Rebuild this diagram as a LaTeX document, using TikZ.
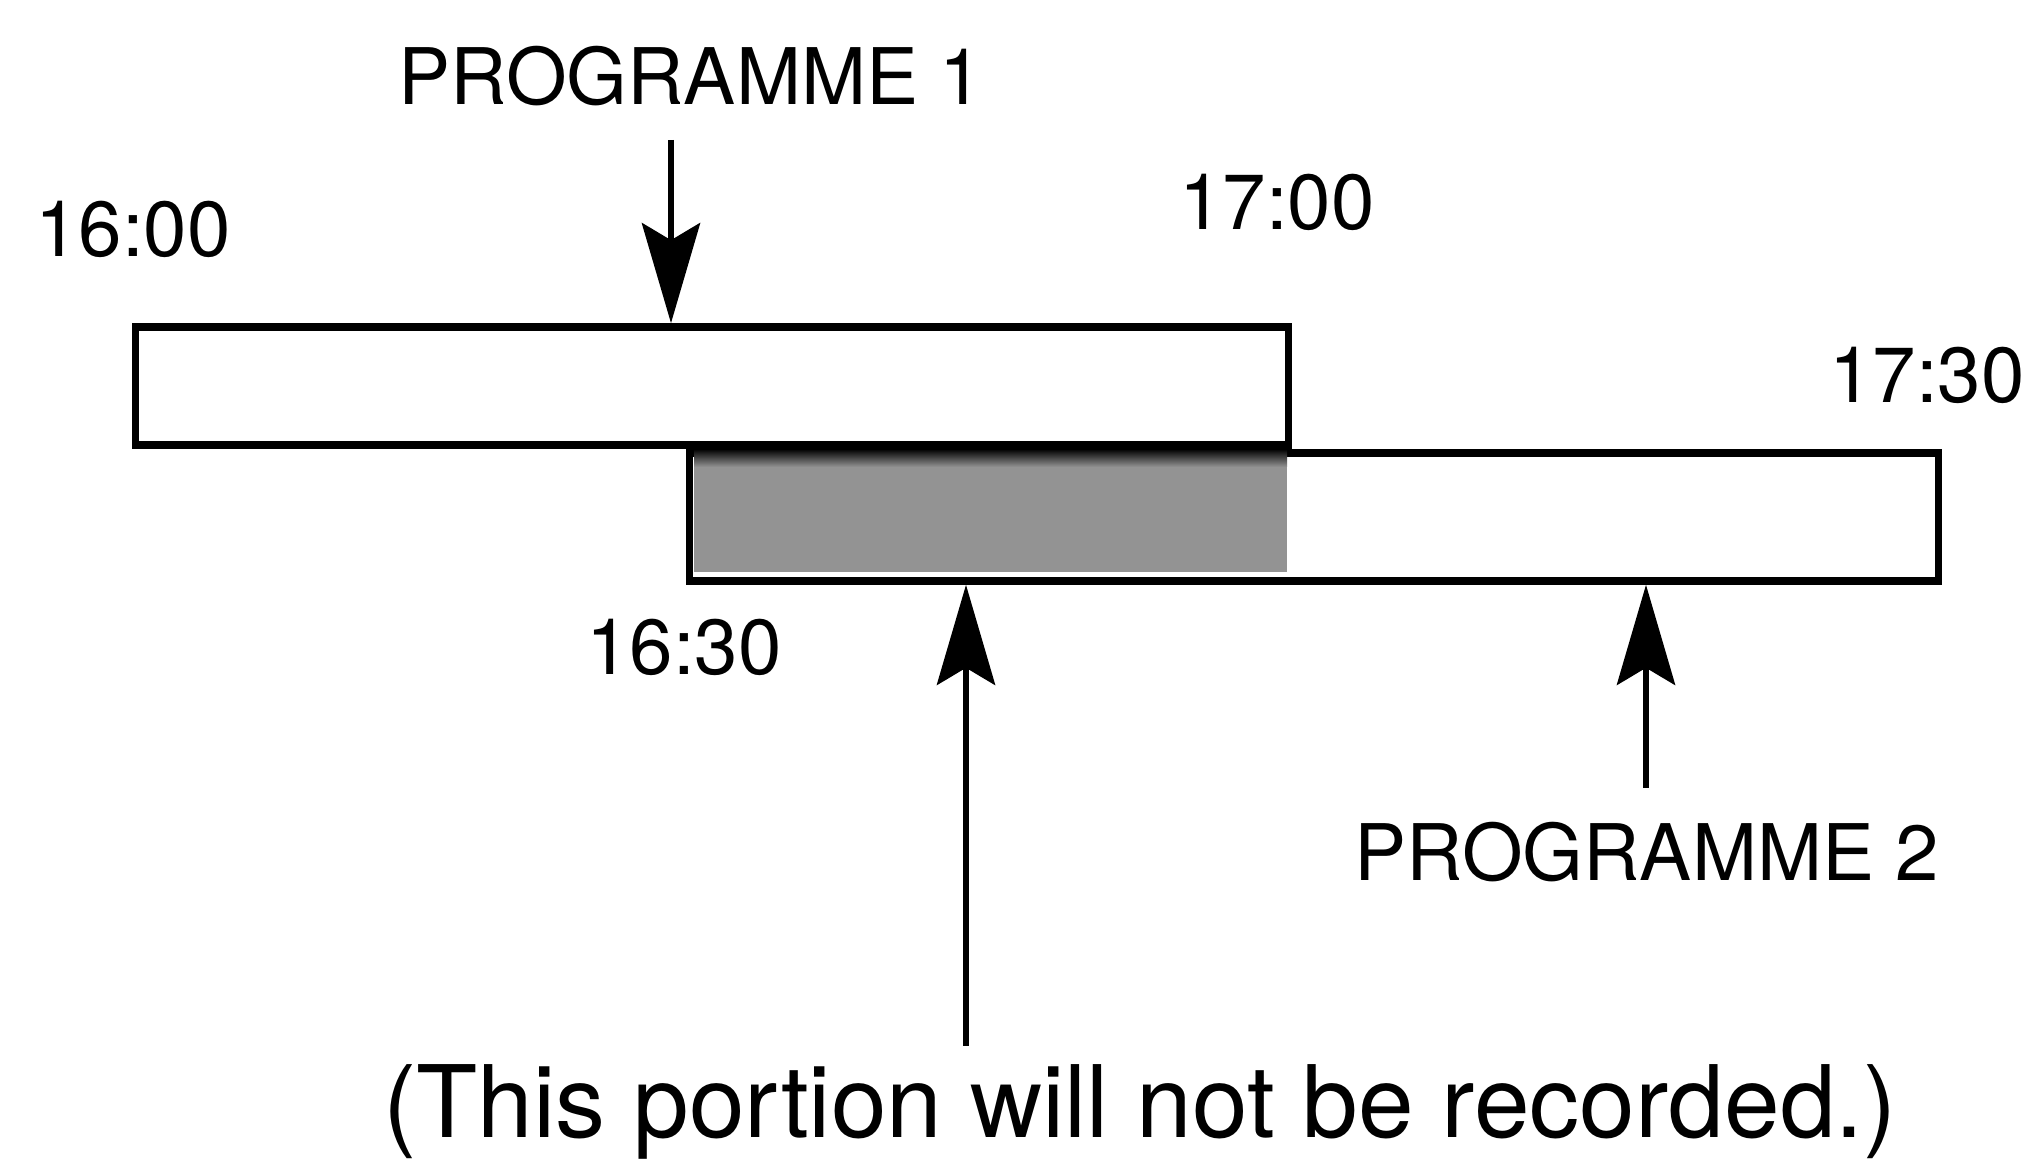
\documentclass[tikz,border=0pt]{standalone}
\usepackage{fontspec}
\setmainfont{TeX Gyre Heros}
\usetikzlibrary{arrows.meta}
\definecolor{shadegray}{HTML}{939393}
\begin{document}
\begin{tikzpicture}[x=0.01cm,y=-0.01cm,
  box/.style={draw, line width=0.075cm, fill=white, inner sep=0pt},
  lbl/.style={font=\fontsize{22.2}{26.6}\selectfont, inner sep=0pt, anchor=base},
  big/.style={font=\fontsize{28.45}{34}\selectfont, inner sep=0pt, anchor=base},
  arr/.style={line width=0.065cm, -{Stealth[length=1cm,width=0.58cm,inset=0.17cm]}}]
\useasboundingbox (0,0) rectangle (2038,1161);
% programme bars
\node[box, minimum width=12.48cm, minimum height=1.28cm] (p2) at (1314,517) {};
\node[box, minimum width=11.52cm, minimum height=1.18cm] (p1) at (712,386) {};
% overlapping (not recorded) portion
\fill[shadegray] (694,449) rectangle (1287,572);
\shade[top color=black, bottom color=shadegray] (694,449) rectangle (1287,467);
% labels
\node[lbl] (n1) at (691,105) {PROGRAMME 1};
\node[lbl] (t1600) at (133,257) {16:00};
\node[lbl] (t1700) at (1277,230) {17:00};
\node[lbl] (t1730) at (1927,403) {17:30};
\node[lbl] (t1630) at (684,675) {16:30};
\node[lbl] (n2) at (1647,881) {PROGRAMME 2};
\node[big] (note) at (1140,1137) {(This portion will not be recorded.)};
% arrows
\coordinate (a1s) at (671,140);
\coordinate (a2s) at (966,1046);
\coordinate (a3s) at (1646,788);
\draw[arr] (a1s) -- (a1s |- p1.north);
\draw[arr] (a2s) -- (a2s |- p2.south);
\draw[arr] (a3s) -- (a3s |- p2.south);
\end{tikzpicture}
\end{document}
